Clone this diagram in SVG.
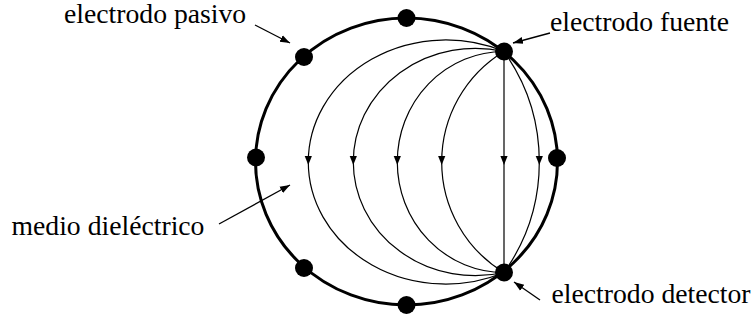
<svg xmlns="http://www.w3.org/2000/svg" width="755" height="321" viewBox="0 0 755 321">
<style>
.el{fill:#000}
.field{fill:none;stroke:#000;stroke-width:1.2;marker-mid:url(#fa)}
.ptr{fill:none;stroke:#000;stroke-width:1.3;marker-end:url(#pa)}
</style>
<defs>
<marker id="fa" markerUnits="userSpaceOnUse" markerWidth="12" markerHeight="10" viewBox="0 -5 12 10" refX="6" refY="0" orient="auto">
<path d="M0,-3.6 L9,0 L0,3.6 z" fill="#000"/>
</marker>
<marker id="pa" markerUnits="userSpaceOnUse" markerWidth="12" markerHeight="10" viewBox="0 -5 12 10" refX="10" refY="0" orient="auto">
<path d="M0,-3.6 L10,0 L0,3.6 z" fill="#000"/>
</marker>
</defs>
<g id="medium">
<ellipse cx="406.5" cy="161.5" rx="151" ry="143.5" fill="none" stroke="#000" stroke-width="3"/>
</g>
<g id="connectors">
<path class="field" d="M504,51.5 A137.4,122 0 0 0 308.3,162 A137.4,122 0 0 0 504,272.5"/>
<path class="field" d="M504,51.5 A122,113.7 0 0 0 353.3,162 A122,113.7 0 0 0 504,272.5"/>
<path class="field" d="M504,51.5 A106.7,110.5 0 0 0 397.3,162 A106.7,110.5 0 0 0 504,272.5"/>
<path class="field" d="M504,51.5 A129.1,129.1 0 0 0 441.7,162 A129.1,129.1 0 0 0 504,272.5"/>
<path class="field" d="M504,51.5 L504,162 L504,272.5"/>
<path class="field" d="M504,51.5 A190.6,190.6 0 0 1 539.3,162 A190.6,190.6 0 0 1 504,272.5"/>
<path class="ptr" d="M255,25 L290,43"/>
<path class="ptr" d="M550,33 L513,43"/>
<path class="ptr" d="M219,224 L290,185"/>
<path class="ptr" d="M540,300 L514,282"/>
</g>
<g id="electrode-top"><circle class="el" cx="406.5" cy="18" r="9"/></g>
<g id="electrode-upper-left"><circle class="el" cx="304" cy="57" r="9"/></g>
<g id="electrode-left"><circle class="el" cx="256" cy="157.5" r="9"/></g>
<g id="electrode-right"><circle class="el" cx="557" cy="158" r="9"/></g>
<g id="electrode-lower-left"><circle class="el" cx="304" cy="268" r="9"/></g>
<g id="electrode-bottom"><circle class="el" cx="406.5" cy="305" r="9"/></g>
<g id="electrode-source"><circle class="el" cx="504" cy="51.5" r="9"/></g>
<g id="electrode-detector"><circle class="el" cx="504" cy="272.5" r="9"/></g>
<g id="labels" font-family="'Liberation Serif', 'Times New Roman', 'DejaVu Serif', serif" font-size="27.7" fill="#000">
<text x="64" y="23">electrodo pasivo</text>
<text x="550" y="31">electrodo fuente</text>
<text x="11.5" y="235">medio dieléctrico</text>
<text x="551.5" y="303">electrodo detector</text>
</g>
</svg>
